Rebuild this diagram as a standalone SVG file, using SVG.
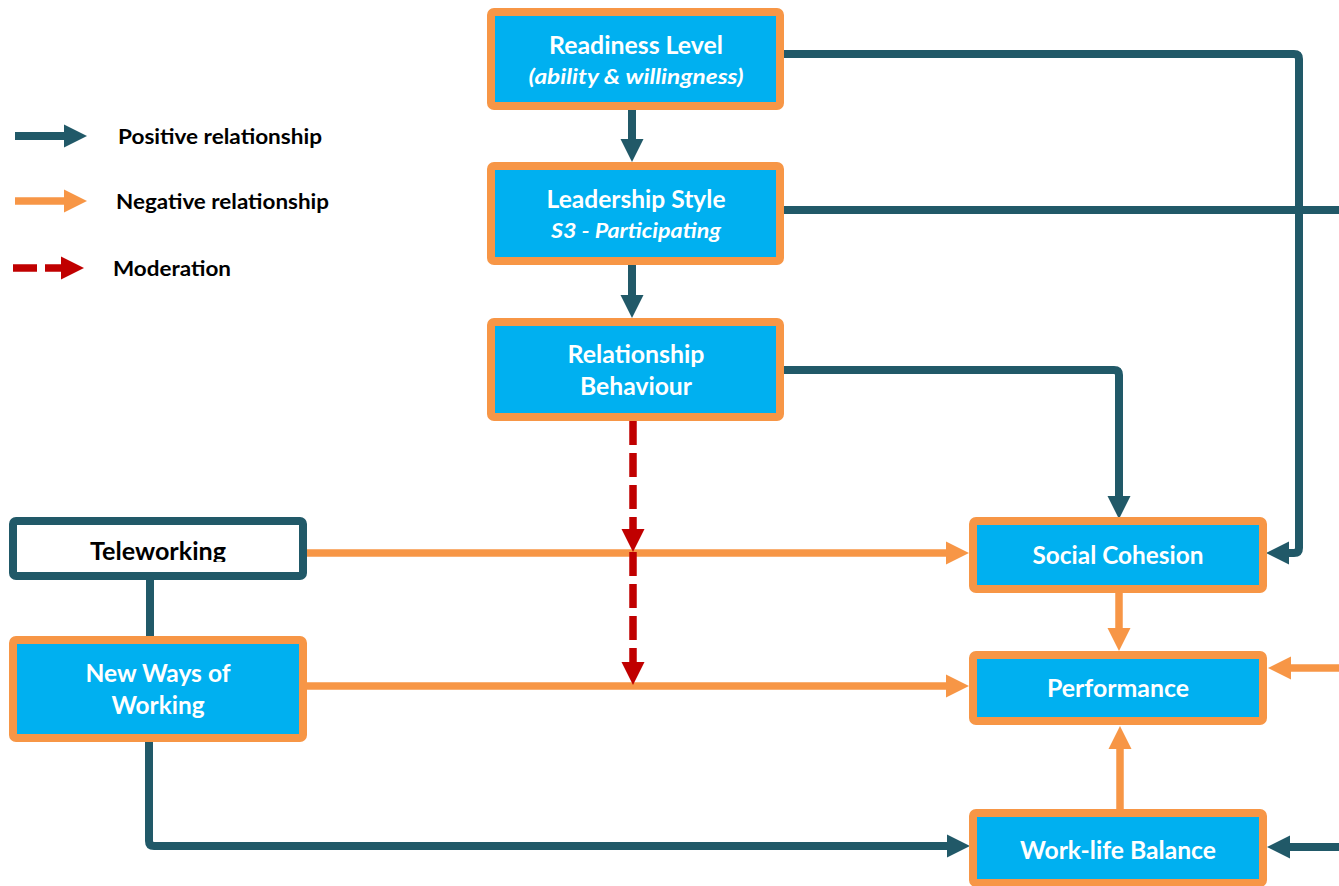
<svg xmlns="http://www.w3.org/2000/svg" width="1339" height="886" viewBox="0 0 1339 886">
  <style>
    .box { fill: #00B0F0; stroke: #F79646; stroke-width: 8; }
    .boxw { fill: #FFFFFF; stroke: #215968; stroke-width: 8; }
    .t { font-family: Lato, "Liberation Sans", sans-serif; font-weight: bold; font-size: 24px; fill: #FFFFFF; text-anchor: middle; }
    .ti { font-family: Lato, "Liberation Sans", sans-serif; font-weight: bold; font-style: italic; font-size: 21px; fill: #FFFFFF; text-anchor: middle; }
    .tk { fill: #000000; }
    .lg { font-family: Lato, "Liberation Sans", sans-serif; font-weight: bold; font-size: 20px; fill: #000000; }
    .pos { fill: none; stroke: #215968; stroke-width: 8; }
    .neg { fill: none; stroke: #F79646; stroke-width: 7.5; }
    .mod { fill: none; stroke: #C00000; stroke-width: 7.5; stroke-dasharray: 24 8; }
  </style>
  <defs>
    <marker id="ahPos" markerUnits="userSpaceOnUse" markerWidth="23" markerHeight="24" viewBox="0 0 23 24" refX="1" refY="12" orient="auto">
      <path d="M0,0.5 L23,12 L0,23.5 Z" fill="#215968"/>
    </marker>
    <marker id="ahNeg" markerUnits="userSpaceOnUse" markerWidth="23" markerHeight="24" viewBox="0 0 23 24" refX="1" refY="12" orient="auto">
      <path d="M0,0.5 L23,12 L0,23.5 Z" fill="#F79646"/>
    </marker>
    <marker id="ahMod" markerUnits="userSpaceOnUse" markerWidth="23" markerHeight="24" viewBox="0 0 23 24" refX="1" refY="12" orient="auto">
      <path d="M0,0.5 L23,12 L0,23.5 Z" fill="#C00000"/>
    </marker>
    <clipPath id="teleClip">
      <rect x="17" y="525" width="282" height="37"/>
    </clipPath>
  </defs>

  <rect width="1339" height="886" fill="#FFFFFF"/>

  <!-- legend -->
  <g id="legend">
    <path class="pos" d="M15,136 H65" marker-end="url(#ahPos)"/>
    <text class="lg" x="118" y="144" textLength="204" lengthAdjust="spacingAndGlyphs">Positive relationship</text>
    <path class="neg" d="M15,201 H65" marker-end="url(#ahNeg)"/>
    <text class="lg" x="116" y="209" textLength="213" lengthAdjust="spacingAndGlyphs">Negative relationship</text>
    <path class="mod" d="M13,268 H62" marker-end="url(#ahMod)"/>
    <text class="lg" x="113" y="276" textLength="118" lengthAdjust="spacingAndGlyphs">Moderation</text>
  </g>

  <!-- connectors -->
  <g id="connectors">
    <path class="pos" d="M632,106 V140" marker-end="url(#ahPos)"/>
    <path class="pos" d="M632,261 V296" marker-end="url(#ahPos)"/>
    <path class="pos" d="M783,54 H1294 Q1299,54 1299,59 V548 Q1299,553 1294,553 H1288" marker-end="url(#ahPos)"/>
    <path class="pos" d="M783,210 H1339"/>
    <path class="pos" d="M780,370 H1114 Q1119,370 1119,375 V497" marker-end="url(#ahPos)"/>
    <path class="pos" d="M150,578 V638"/>
    <path class="pos" d="M149,738 V841 Q149,846 154,846 H948" marker-end="url(#ahPos)"/>
    <path class="pos" d="M1339,847 H1289" marker-end="url(#ahPos)"/>
    <path class="neg" d="M306,553 H947" marker-end="url(#ahNeg)"/>
    <path class="neg" d="M306,686 H947" marker-end="url(#ahNeg)"/>
    <path class="neg" d="M1119,592 V629" marker-end="url(#ahNeg)"/>
    <path class="neg" d="M1120,810 V748" marker-end="url(#ahNeg)"/>
    <path class="neg" d="M1339,668 H1290" marker-end="url(#ahNeg)"/>
    <path class="mod" d="M633,421 V530" marker-end="url(#ahMod)"/>
    <path class="mod" d="M633,552 V663" marker-end="url(#ahMod)"/>
  </g>

  <!-- nodes -->
  <g id="readiness-level">
    <rect class="box" x="491" y="12" width="289" height="94" rx="3"/>
    <text class="t" x="636" y="54" textLength="174" lengthAdjust="spacingAndGlyphs">Readiness Level</text>
    <text class="ti" x="636" y="84" textLength="215" lengthAdjust="spacingAndGlyphs">(ability &amp; willingness)</text>
  </g>
  <g id="leadership-style">
    <rect class="box" x="491" y="166" width="289" height="95" rx="3"/>
    <text class="t" x="636" y="208" textLength="179" lengthAdjust="spacingAndGlyphs">Leadership Style</text>
    <text class="ti" x="636" y="238" textLength="170" lengthAdjust="spacingAndGlyphs">S3 - Participating</text>
  </g>
  <g id="relationship-behaviour">
    <rect class="box" x="491" y="322" width="289" height="95" rx="3"/>
    <text class="t" x="636" y="363" textLength="137" lengthAdjust="spacingAndGlyphs">Relationship</text>
    <text class="t" x="636" y="395" textLength="112" lengthAdjust="spacingAndGlyphs">Behaviour</text>
  </g>
  <g id="teleworking">
    <rect class="boxw" x="13" y="521" width="290" height="55" rx="3"/>
    <text class="t tk" x="158" y="560" textLength="136" lengthAdjust="spacingAndGlyphs" clip-path="url(#teleClip)">Teleworking</text>
  </g>
  <g id="new-ways-of-working">
    <rect class="box" x="13" y="640" width="290" height="98" rx="3"/>
    <text class="t" x="158" y="682" textLength="145" lengthAdjust="spacingAndGlyphs">New Ways of</text>
    <text class="t" x="158" y="714" textLength="93" lengthAdjust="spacingAndGlyphs">Working</text>
  </g>
  <g id="social-cohesion">
    <rect class="box" x="973" y="521" width="290" height="68" rx="3"/>
    <text class="t" x="1118" y="564" textLength="171" lengthAdjust="spacingAndGlyphs">Social Cohesion</text>
  </g>
  <g id="performance">
    <rect class="box" x="973" y="655" width="290" height="66" rx="3"/>
    <text class="t" x="1118" y="697" textLength="142" lengthAdjust="spacingAndGlyphs">Performance</text>
  </g>
  <g id="work-life-balance">
    <rect class="box" x="973" y="813" width="290" height="70" rx="3"/>
    <text class="t" x="1118" y="859" textLength="196" lengthAdjust="spacingAndGlyphs">Work-life Balance</text>
  </g>
</svg>
